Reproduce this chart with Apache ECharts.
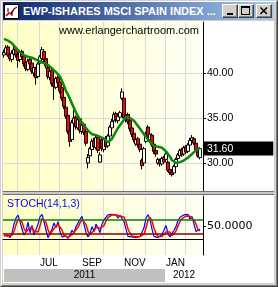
<!DOCTYPE html>
<html>
<head>
<meta charset="utf-8">
<script src="https://cdn.jsdelivr.net/npm/echarts@6/dist/echarts.min.js"></script>
<style>
html,body{margin:0;padding:0;}
body{width:278px;height:287px;background:#D4D0C8;position:relative;overflow:hidden;font-family:"Liberation Sans",Arial,sans-serif;}
.frame{position:absolute;left:0;top:0;width:278px;height:287px;box-sizing:border-box;border:1px solid;border-color:#D4D0C8 #404040 #404040 #D4D0C8;}
.frame-in{position:absolute;left:0;top:0;right:0;bottom:0;border:1px solid;border-color:#FFFFFF #808080 #808080 #FFFFFF;}
.titlebar{position:absolute;left:3px;top:2px;width:271px;height:18px;background:linear-gradient(to right,#0A246A,#A6CAF0);}
.title{position:absolute;left:20px;top:2px;color:#fff;font-weight:bold;font-size:11px;line-height:14px;white-space:nowrap;}
.btn{position:absolute;top:2px;width:16px;height:14px;box-sizing:border-box;background:#D4D0C8;border:1px solid;border-color:#FFFFFF #404040 #404040 #FFFFFF;box-shadow:inset -1px -1px #808080;}
.btn svg{position:absolute;left:0;top:0;}
.client{position:absolute;left:3px;top:21px;width:271px;height:262px;background:#fff;}
#chart{position:absolute;left:0;top:0;width:278px;height:287px;}
.sep{position:absolute;left:3px;top:191px;width:271px;height:4px;box-sizing:border-box;border-top:1px solid #707070;border-bottom:1px solid #707070;background:#C8C8C8;}
</style>
</head>
<body>
<div class="frame"><div class="frame-in"></div></div>
<div class="titlebar">
  <svg style="position:absolute;left:1px;top:2px" width="15" height="15">
    <rect x="0.5" y="0.5" width="14" height="14" fill="#fff" stroke="#000"/>
    <polyline points="2,12 5,9 7,10 10,5 13,3" fill="none" stroke="#c00000" stroke-width="1.5"/>
    <line x1="4" y1="4" x2="4" y2="8" stroke="#000"/>
    <line x1="8" y1="7" x2="8" y2="12" stroke="#000"/>
  </svg>
  <div class="title">EWP-ISHARES MSCI SPAIN INDEX ...</div>
  <div class="btn" style="left:219px"><svg width="14" height="12"><rect x="4" y="8" width="6" height="2" fill="#000"/></svg></div>
  <div class="btn" style="left:235px"><svg width="14" height="12"><rect x="2.5" y="1.5" width="8" height="8" fill="none" stroke="#000"/><rect x="2" y="1" width="9" height="2" fill="#000"/></svg></div>
  <div class="btn" style="left:253px"><svg width="14" height="12"><path d="M3.5,2.5 L10,9 M10,2.5 L3.5,9" stroke="#000" stroke-width="1.6"/></svg></div>
</div>
<div class="client"></div>
<div id="chart"></div>
<div class="sep"></div>
<script>
// trading calendar
var startDay = '2011-05-12';
var holidays = ['2011-05-30', '2011-07-04', '2011-09-05', '2011-11-24', '2011-12-26', '2012-01-02', '2012-01-16', '2012-02-20'];
var monthNames = ['JAN', 'FEB', 'MAR', 'APR', 'MAY', 'JUN', 'JUL', 'AUG', 'SEP', 'OCT', 'NOV', 'DEC'];
var labelMonths = [6, 8, 10, 0];
var priceTicks = [30, 35, 40];
var stochTicks = [50];
var stochLevels = [80, 20];

// one bar = two trading days
var opens = [
  42.0, 42.2, 42.9, 42.1, 41.5, 42.1, 42.7, 42.1, 41.5, 42.4,
  41.9, 41.2, 40.4, 41.5, 41.1, 40.0, 40.5, 39.6, 41.1, 41.6,
  42.4, 41.6, 40.6, 39.5, 40.3, 38.9, 38.4, 39.5, 39.0, 38.4,
  37.3, 36.2, 35.3, 33.6, 32.6, 34.4, 35.1, 33.9, 34.9, 33.5,
  34.3, 33.5, 30.0, 30.8, 31.5, 32.5, 31.7, 32.9, 30.1, 32.6,
  31.5, 32.7, 31.9, 33.0, 33.9, 34.7, 35.5, 34.7, 35.1, 37.2,
  37.2, 34.8, 35.4, 34.7, 33.9, 33.3, 32.1, 32.7, 32.1, 30.3,
  30.0, 32.4, 34.0, 32.6, 33.1, 32.1, 31.4, 30.0, 30.3, 29.9,
  30.6, 30.4, 30.1, 29.3, 29.0, 28.9, 29.6, 30.5, 30.8, 31.5,
  31.0, 31.8, 31.3, 32.0, 32.5, 32.7, 32.2, 31.4, 30.6
];
var closes = [
  42.3, 42.8, 42.0, 41.6, 42.2, 42.6, 42.0, 41.4, 42.3, 41.8,
  41.0, 40.5, 41.3, 41.0, 40.2, 40.6, 39.5, 41.0, 41.8, 42.6,
  41.5, 40.8, 39.6, 40.2, 38.8, 38.5, 39.4, 38.9, 38.0, 37.2,
  36.3, 35.2, 33.5, 32.4, 34.5, 35.0, 34.0, 34.8, 33.6, 34.2,
  33.4, 32.2, 30.6, 31.6, 32.4, 31.8, 32.8, 31.4, 30.9, 31.6,
  32.6, 31.8, 33.0, 34.0, 34.6, 35.4, 34.8, 35.2, 35.6, 37.9,
  35.0, 35.3, 34.6, 33.8, 33.2, 32.6, 32.6, 32.0, 31.5, 29.7,
  31.6, 33.2, 32.9, 33.2, 32.0, 31.3, 31.0, 30.4, 29.9, 30.5,
  30.1, 31.0, 29.2, 28.9, 28.7, 29.6, 30.4, 30.9, 31.4, 30.9,
  31.7, 31.2, 32.0, 32.5, 32.8, 32.2, 31.5, 30.8, 31.6
];
var lows = [
  41.7, 42.0, 41.8, 41.3, 41.2, 41.8, 41.7, 40.6, 41.2, 41.5,
  40.7, 40.2, 40.2, 40.8, 39.9, 39.6, 38.7, 39.4, 40.9, 41.4,
  41.2, 40.5, 39.3, 39.2, 38.5, 37.0, 38.2, 38.6, 37.7, 36.9,
  36.0, 34.9, 33.2, 31.8, 32.4, 34.2, 33.7, 33.7, 33.3, 33.2,
  33.1, 31.9, 29.4, 30.5, 31.3, 31.5, 31.5, 31.1, 30.0, 31.3,
  31.2, 31.5, 31.7, 32.8, 33.7, 34.5, 34.5, 34.4, 34.9, 37.0,
  34.8, 34.5, 34.3, 33.5, 32.9, 32.3, 31.9, 31.7, 31.2, 29.3,
  29.8, 32.2, 32.7, 32.4, 31.8, 31.0, 30.7, 29.8, 29.6, 29.7,
  29.9, 30.2, 29.0, 28.7, 28.5, 28.7, 29.4, 30.3, 30.6, 30.7,
  30.8, 31.0, 31.1, 31.8, 32.3, 32.0, 31.3, 30.6, 30.4
];
var highs = [
  42.6, 43.1, 43.1, 42.4, 42.5, 43.0, 42.9, 42.3, 42.5, 42.6,
  42.1, 41.4, 41.6, 41.8, 41.3, 40.9, 40.7, 41.2, 42.0, 42.9,
  42.6, 41.8, 40.8, 40.4, 40.5, 39.1, 39.6, 39.7, 39.2, 38.6,
  37.5, 36.4, 35.5, 33.8, 34.8, 35.9, 35.3, 35.4, 35.1, 34.5,
  34.5, 33.7, 31.0, 31.8, 32.7, 32.8, 33.1, 33.1, 31.2, 32.9,
  32.8, 33.0, 33.2, 34.2, 34.9, 35.7, 35.7, 35.4, 35.8, 38.3,
  37.4, 35.6, 35.6, 34.9, 34.1, 33.5, 32.9, 32.9, 32.3, 30.5,
  31.8, 33.5, 34.2, 33.5, 33.3, 32.3, 31.6, 30.6, 30.5, 30.7,
  30.8, 31.2, 30.3, 29.5, 29.2, 29.8, 30.6, 31.1, 31.6, 31.7,
  31.9, 32.0, 32.2, 32.8, 33.1, 32.9, 32.4, 31.6, 31.8
];
var maLine = [
  43.8, 43.7, 43.6, 43.5, 43.3, 43.1, 42.8, 42.6, 42.3, 42.1,
  42.0, 41.9, 41.8, 41.7, 41.7, 41.6, 41.5, 41.4, 41.3, 41.2,
  41.1, 41.0, 40.9, 40.7, 40.5, 40.3, 40.1, 39.9, 39.6, 39.1,
  38.6, 38.0, 37.6, 37.1, 36.6, 36.1, 35.6, 35.2, 34.8, 34.5,
  34.2, 33.9, 33.6, 33.4, 33.2, 33.1, 33.1, 33.0, 32.9, 32.8,
  32.7, 32.5, 32.3, 32.3, 32.7, 33.1, 33.5, 33.9, 34.2, 34.5,
  34.8, 35.1, 35.1, 35.0, 34.9, 34.7, 34.4, 34.1, 33.8, 33.5,
  33.2, 32.9, 32.6, 32.3, 32.1, 31.9, 31.9, 31.8, 31.8, 31.7,
  31.6, 31.3, 31.1, 30.7, 30.3, 30.1, 30.0, 30.0, 30.1, 30.2,
  30.3, 30.5, 30.6, 30.8, 31.0, 31.2, 31.4, 31.6, 31.7
];
var stochK = [
  12, 8, 15, 5, 25, 60, 85, 97, 70, 40,
  15, 30, 68, 25, 55, 15, 10, 60, 90, 100,
  70, 35, 5, 20, 40, 65, 45, 70, 30, 8,
  5, 12, 2, 15, 35, 25, 50, 65, 80, 92,
  60, 25, 8, 20, 50, 30, 60, 45, 25, 60,
  78, 85, 98, 95, 100, 92, 98, 85, 96, 100,
  70, 40, 10, 18, 8, 15, 5, 12, 10, 3,
  45, 85, 98, 80, 40, 10, 15, 5, 8, 18,
  10, 55, 20, 8, 10, 35, 50, 75, 88, 85,
  98, 95, 100, 80, 92, 60, 30, 25, 40
];
var stochD = [
  15, 10, 11, 9, 15, 30, 57, 80, 84, 69,
  42, 28, 38, 41, 49, 32, 27, 28, 53, 83,
  87, 68, 37, 20, 22, 42, 50, 60, 48, 36,
  14, 8, 6, 10, 17, 25, 37, 47, 65, 79,
  77, 59, 31, 18, 26, 33, 47, 45, 43, 43,
  54, 74, 87, 93, 98, 96, 97, 92, 93, 94,
  89, 70, 40, 23, 12, 14, 9, 11, 9, 8,
  19, 44, 76, 88, 73, 43, 22, 10, 9, 10,
  12, 28, 28, 28, 13, 18, 32, 53, 71, 83,
  90, 93, 98, 92, 91, 77, 61, 38, 32
];

// categories: every second trading day, one spare slot at the right
var nCats = closes.length + 1;
var dates = [];
var d = new Date(startDay + 'T00:00:00Z');
var k = 0;
while (dates.length < nCats) {
  var s = d.toISOString().slice(0, 10);
  var wd = d.getUTCDay();
  if (wd !== 0 && wd !== 6 && holidays.indexOf(s) < 0) {
    if (k % 2 === 0) dates.push(s);
    k++;
  }
  d.setUTCDate(d.getUTCDate() + 1);
}
function monthOf(s) { return parseInt(s.slice(5, 7), 10) - 1; }
var monthStart = dates.map(function (s, i) {
  return i > 0 && monthOf(s) !== monthOf(dates[i - 1]);
});

var candles = opens.map(function (o, i) { return [o, closes[i], lows[i], highs[i]]; });
var lastClose = closes[closes.length - 1];

var font = 'Liberation Sans';
var bg = new echarts.graphic.LinearGradient(0, 0, 1, 0, [
  { offset: 0, color: '#FFFFC4' },
  { offset: 1, color: '#FFFFF4' }
]);
var gridLine = { color: '#DADADA', width: 1 };

var chart = echarts.init(document.getElementById('chart'), null, { renderer: 'canvas' });
chart.setOption({
  animation: false,
  backgroundColor: 'transparent',
  title: [
    { text: 'www.erlangerchartroom.com', right: 79, top: 25, padding: 0,
      textStyle: { fontSize: 11, fontWeight: 'normal', color: '#000', fontFamily: font } },
    { text: 'STOCH(14,1,3)', left: 7, top: 199, padding: 0,
      textStyle: { fontSize: 10.5, fontWeight: 'normal', color: '#0000FF', fontFamily: font } }
  ],
  grid: [
    { left: 3, top: 22, width: 200, height: 169, show: true, borderWidth: 0, backgroundColor: bg },
    { left: 3, top: 196, width: 200, height: 59, show: true, borderWidth: 0, backgroundColor: bg }
  ],
  xAxis: [
    { type: 'category', gridIndex: 0, data: dates, boundaryGap: true,
      axisLine: { show: false }, axisTick: { show: false }, axisLabel: { show: false },
      splitLine: { show: true, interval: function (i) { return monthStart[i]; }, lineStyle: gridLine } },
    { type: 'category', gridIndex: 1, data: dates, boundaryGap: true,
      axisLine: { show: true, lineStyle: { color: '#000', width: 1 } }, axisTick: { show: false },
      axisLabel: {
        show: true, align: 'left', margin: 3, fontSize: 10, color: '#000', fontFamily: font,
        interval: function (i, v) { return monthStart[i] && labelMonths.indexOf(monthOf(v)) >= 0; },
        formatter: function (v) { return monthNames[monthOf(v)]; }
      },
      splitLine: { show: true, interval: function (i) { return monthStart[i]; }, lineStyle: gridLine } }
  ],
  yAxis: [
    { type: 'value', gridIndex: 0, position: 'right', min: 26.89, max: 45.67,
      axisLine: { show: true, lineStyle: { color: '#000', width: 1 } },
      axisTick: { show: true, customValues: priceTicks, length: 3, lineStyle: { color: '#000' } },
      axisLabel: { customValues: priceTicks, margin: 4, fontSize: 10.5, color: '#000', fontFamily: font,
        formatter: function (v) { return v.toFixed(2); } },
      splitLine: { show: true, lineStyle: gridLine } },
    { type: 'value', gridIndex: 1, position: 'right', min: -66, max: 175,
      axisLine: { show: true, lineStyle: { color: '#000', width: 1 } },
      axisTick: { show: true, customValues: stochTicks, length: 3, lineStyle: { color: '#000' } },
      axisLabel: { customValues: stochTicks, margin: 4, fontSize: 11, color: '#000', fontFamily: 'DejaVu Sans',
        formatter: function (v) { return v.toFixed(4); } },
      splitLine: { show: false } }
  ],
  series: [
    { type: 'candlestick', name: 'EWP', xAxisIndex: 0, yAxisIndex: 0, data: candles, barWidth: 4, z: 2,
      itemStyle: { color: '#FFFFFF', color0: '#FF0000', borderColor: '#000', borderColor0: '#000', borderWidth: 1 },
      markLine: {
        silent: true, symbol: ['none', 'none'], animation: false,
        lineStyle: { color: 'rgba(0,0,0,0)', width: 0 },
        label: { show: true, position: 'end', distance: 0, formatter: lastClose.toFixed(2),
          color: '#fff', backgroundColor: '#000', padding: [1, 40, 1, 4], fontSize: 10.5, lineHeight: 12, fontFamily: font },
        data: [{ yAxis: lastClose }]
      } },
    { type: 'line', name: 'MA', xAxisIndex: 0, yAxisIndex: 0, data: maLine, z: 3,
      symbol: 'none', lineStyle: { color: '#0A8A0A', width: 2.5 } },
    { type: 'line', name: 'levels', xAxisIndex: 1, yAxisIndex: 1, data: [], z: 1,
      markLine: {
        silent: true, symbol: ['none', 'none'], animation: false, label: { show: false },
        data: [
          { yAxis: stochLevels[0], lineStyle: { color: '#008000', width: 1.5, type: 'solid' } },
          { yAxis: stochLevels[1], lineStyle: { color: '#8B0000', width: 1.5, type: 'solid' } }
        ]
      } },
    { type: 'line', name: '%K', xAxisIndex: 1, yAxisIndex: 1, data: stochK, z: 2,
      symbol: 'none', lineStyle: { color: '#0000FF', width: 1.2 } },
    { type: 'line', name: '%D', xAxisIndex: 1, yAxisIndex: 1, data: stochD, z: 3,
      symbol: 'none', lineStyle: { color: '#FF0000', width: 1.5 } }
  ]
});

// year strip under the month labels
var janIdx = dates.findIndex(function (s) { return s.slice(0, 4) === '2012'; });
var band = 200 / dates.length;
var xJan = chart.convertToPixel({ xAxisIndex: 1 }, dates[janIdx]) - band / 2;
var xLeft = 4, xRight = 203;
chart.setOption({
  graphic: [
    { type: 'rect', shape: { x: xLeft, y: 269, width: xJan - xLeft, height: 13 }, style: { fill: '#C0C0C0' }, silent: true },
    { type: 'text', x: (xLeft + xJan) / 2, y: 275.5, silent: true,
      style: { text: '2011', fill: '#000', font: '10px "Liberation Sans"', align: 'center', verticalAlign: 'middle' } },
    { type: 'text', x: (xJan + xRight) / 2, y: 275.5, silent: true,
      style: { text: '2012', fill: '#000', font: '10px "Liberation Sans"', align: 'center', verticalAlign: 'middle' } }
  ]
});
</script>
</body>
</html>
